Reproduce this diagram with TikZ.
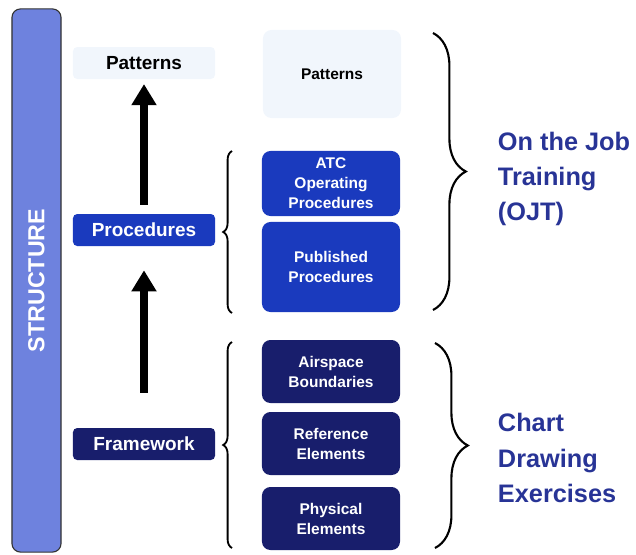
\documentclass[tikz,border=0pt]{standalone}
\usepackage{fontspec}
\setmainfont{Liberation Sans}
\usetikzlibrary{arrows.meta,decorations.pathreplacing}
\definecolor{structblue}{RGB}{110,130,222}
\definecolor{procblue}{RGB}{26,58,190}
\definecolor{frameblue}{RGB}{24,30,108}
\definecolor{labelblue}{RGB}{40,52,150}
\definecolor{fadeblue}{RGB}{241,246,252}

\begin{document}
\begin{tikzpicture}[x=0.025cm,y=-0.025cm,
    leftbox/.style={rounded corners=3pt, minimum width=3.55cm, minimum height=0.8cm,
      inner sep=0pt, text=white, font=\bfseries\fontsize{13.5}{16}\selectfont},
    rightbox/.style={rounded corners=6pt, minimum width=3.45cm, inner sep=0pt,
      align=center, text=white, font=\bfseries\fontsize{11}{14.2}\selectfont},
    upstep/.style={line width=5.8pt, -{Triangle[width=17pt,length=15pt]}},
    smallbrace/.style={decorate, decoration={brace, amplitude=0.22cm}, line width=1.3pt},
    bigbrace/.style={decorate, decoration={brace, amplitude=0.82cm}, line width=1.5pt},
    bigtext/.style={anchor=west, align=left, text=labelblue,
      font=\bfseries\fontsize{18}{25}\selectfont}]
  \useasboundingbox (0,0) rectangle (636,554);

  % Structure bar
  \node[rotate=90, fill=structblue, draw=black!80, line width=0.8pt, rounded corners=6pt,
    minimum width=13.575cm, minimum height=1.225cm, text=white,
    font=\bfseries\fontsize{16.5}{18}\selectfont] (struct) at (36.5,280.5) {STRUCTURE};

  % Left column
  \node[leftbox, fill=fadeblue, text=black] (pat1) at (144,63) {Patterns};
  \node[leftbox, fill=procblue] (proc) at (144,230) {Procedures};
  \node[leftbox, fill=frameblue] (frame) at (144,444) {Framework};

  % Arrows between levels
  \draw[upstep, shorten <=0.225cm, shorten >=0.12cm] (proc.north) -- (pat1.south);
  \draw[upstep, shorten <=0.875cm, shorten >=0.6cm] (frame.north) -- (proc.south);

  % Right column
  \node[rightbox, fill=fadeblue, text=black, minimum height=2.2cm] (pat2) at (332,74) {Patterns};
  \node[rightbox, fill=procblue, minimum height=1.625cm] (atc) at (331,183.5) {ATC\\Operating\\Procedures};
  \node[rightbox, fill=procblue, minimum height=2.25cm] (pub) at (331,267) {Published\\Procedures};
  \node[rightbox, fill=frameblue, minimum height=1.575cm] (air) at (331,371.5) {Airspace\\Boundaries};
  \node[rightbox, fill=frameblue, minimum height=1.575cm] (ref) at (331,443.5) {Reference\\Elements};
  \node[rightbox, fill=frameblue, minimum height=1.575cm] (phy) at (331,518.5) {Physical\\Elements};

  % Braces
  \coordinate (pb1) at (232,151);
  \coordinate (pb2) at (232,313);
  \coordinate (fb1) at (232,342);
  \coordinate (fb2) at (232,548);
  \coordinate (ob1) at (433,33);
  \coordinate (ob2) at (433,310);
  \coordinate (cb1) at (435,343);
  \coordinate (cb2) at (435,548);
  \draw[smallbrace] (pb2) -- (pb1);
  \draw[smallbrace] (fb2) -- (fb1);
  \draw[bigbrace] (ob1) -- (ob2);
  \draw[bigbrace] (cb1) -- (cb2);

  % Training labels
  \node[bigtext] (ojt) at (493,179) {On the Job\\Training\\(OJT)};
  \node[bigtext] (chart) at (493,458) {Chart\\Drawing\\Exercises};
\end{tikzpicture}
\end{document}
